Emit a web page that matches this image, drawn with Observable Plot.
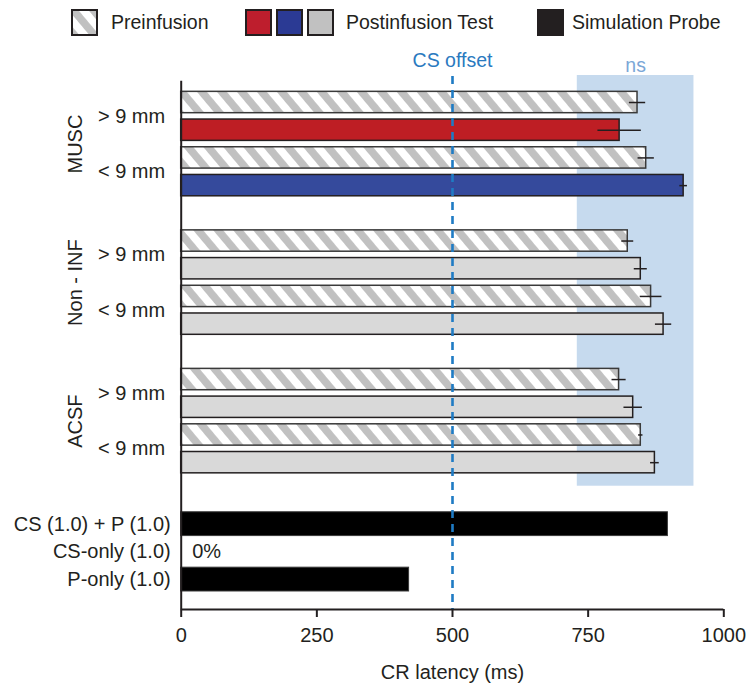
<!DOCTYPE html>
<html>
<head>
<meta charset="utf-8">
<script src="https://cdn.jsdelivr.net/npm/d3@7"></script>
<script src="https://cdn.jsdelivr.net/npm/@observablehq/plot@0.6"></script>
<style>
  body { margin: 0; background: #fff; }
  #wrap { position: relative; width: 746px; height: 686px; font-family: "Liberation Sans", Arial, sans-serif; }
  #legend { position: absolute; left: 0; top: 0; z-index: 2; }
  #chart { position: absolute; left: 0; top: 0; z-index: 1; }
</style>
</head>
<body>
<div id="wrap">
  <svg id="legend" width="746" height="44">
    <defs>
      <pattern id="hatch" patternUnits="userSpaceOnUse" width="15.3" height="15.3" patternTransform="rotate(-40)">
        <rect width="15.3" height="15.3" fill="#ffffff"></rect>
        <rect width="7.6" height="15.3" fill="#c1c1c1"></rect>
      </pattern>
    </defs>
    <g id="legend-items"></g>
  </svg>
  <div id="chart"></div>
</div>
<script>
// ---------- data ----------
const groups = ["MUSC", "Non - INF", "ACSF"];
const sizes = ["> 9 mm", "< 9 mm"];
// [group][size] : size order ["> 9 mm", "< 9 mm"]
const preMean = [[841, 857], [823, 866], [807, 847]];
const preSem  = [[15, 15], [11, 20], [13, 4]];
const postMean = [[808, 926], [847, 889], [833, 873]];
const postSem  = [[40, 7], [12, 15], [17, 8]];

const simLabels = ["CS (1.0) + P (1.0)", "CS-only (1.0)", "P-only (1.0)"];
const simValues = [897, 0, 420];
const simNotes = ["", "0%", ""];

const csOffset = 500;
const csLabel = "CS offset";
const nsRange = [730, 945];
const nsLabel = "ns";
const xTicks = [0, 250, 500, 750, 1000];
const xLabel = "CR latency (ms)";

const legendItems = [
  {label: "Preinfusion", swatches: ["url(#hatch)"]},
  {label: "Postinfusion Test", swatches: ["#be1e2d", "#2b3a94", "#c1c1c1"]},
  {label: "Simulation Probe", swatches: ["#231f20"]}
];

// ---------- styles ----------
const musColors = ["#be1e24", "#354a9c"];
const postGray = "#d9d9d9";
const ink = "#231f20";
const font = "'Liberation Sans', Arial, sans-serif";

// ---------- layout (row positions in row units) ----------
const rows = [];
const sizeRows = [];
const groupRows = [];
groups.forEach((g, gi) => {
  sizes.forEach((s, si) => {
    const base = gi * 5 + si * 2;
    rows.push({group: g, size: s, phase: "pre", pos: base, value: preMean[gi][si], sem: preSem[gi][si]});
    rows.push({group: g, size: s, phase: "post", pos: base + 1, value: postMean[gi][si], sem: postSem[gi][si],
      fill: gi === 0 ? musColors[si] : postGray});
    sizeRows.push({label: s, pos: base + 0.5});
  });
  groupRows.push({label: g, pos: gi * 5 + 1.5});
});
const lastRow = d3.max(rows, d => d.pos);
const simStart = lastRow + 2.22;
const simRows = simLabels.map((l, k) => ({label: l, value: simValues[k], note: simNotes[k], pos: simStart + k}));
const yDomain = [-0.975, simStart + 3.08];
const axisTop = -0.77;
const half = 0.385;

const chart = Plot.plot({
  width: 746,
  height: 686,
  marginTop: 75,
  marginBottom: 77,
  marginLeft: 180.7,
  marginRight: 22.7,
  x: {domain: [0, 1000], axis: null},
  y: {domain: yDomain, reverse: true, axis: null},
  color: {type: "identity"},
  style: {fontFamily: font, fontSize: "20px", color: ink, background: "transparent"},
  marks: [
    // ns shaded band
    Plot.rect([nsRange], {x1: d => d[0], x2: d => d[1], y1: yDomain[0], y2: lastRow + 0.85, fill: "#c6daee"}),
    // preinfusion (hatched)
    Plot.rect(rows.filter(d => d.phase === "pre"), {
      x1: 0, x2: "value", y1: d => d.pos - half, y2: d => d.pos + half,
      fill: "url(#hatch)", stroke: "#3a3a3a", strokeWidth: 1.5
    }),
    // postinfusion
    Plot.rect(rows.filter(d => d.phase === "post"), {
      x1: 0, x2: "value", y1: d => d.pos - half, y2: d => d.pos + half,
      fill: "fill", stroke: ink, strokeWidth: 1.5
    }),
    // simulation probe
    Plot.rect(simRows.filter(d => d.value > 0), {
      x1: 0, x2: "value", y1: d => d.pos - 0.43, y2: d => d.pos + 0.43,
      fill: "#000000", stroke: "#3a3a3a", strokeWidth: 1
    }),
    // error bars
    Plot.ruleY(rows, {y: "pos", x1: d => d.value - d.sem, x2: d => d.value + d.sem, stroke: ink, strokeWidth: 1.5}),
    // CS offset dashed line
    Plot.ruleX([csOffset], {y1: yDomain[0] + 0.04, y2: yDomain[1], stroke: "#1f7bc4", strokeWidth: 2.6, strokeDasharray: "8,6"}),
    // axes lines
    Plot.ruleX([0], {y1: axisTop, y2: yDomain[1], stroke: ink, strokeWidth: 2}),
    Plot.ruleY([yDomain[1]], {stroke: ink, strokeWidth: 2}),
    Plot.axisX({ticks: xTicks, tickSize: 8, tickPadding: 10, fontSize: 20, strokeWidth: 2, label: null, tickFormat: d => String(d)}),
    Plot.text([xLabel], {frameAnchor: "bottom", lineAnchor: "middle", dy: 63, text: d => d, fontSize: 20, fill: ink}),
    // annotations
    Plot.text([csOffset], {x: d => d, frameAnchor: "top", lineAnchor: "middle", dy: -15, text: () => csLabel, fontSize: 19.5, fill: "#2a7ac0"}),
    Plot.text([nsRange], {x: d => (d[0] + d[1]) / 2, frameAnchor: "top", lineAnchor: "middle", dy: -10, text: () => nsLabel, fontSize: 19.5, fill: "#7ba7d7"}),
    // y labels
    Plot.text(sizeRows, {x: 0, y: "pos", text: "label", textAnchor: "end", dx: -16, fontSize: 20, fill: ink}),
    Plot.text(groupRows, {x: 0, y: "pos", text: "label", rotate: -90, dx: -106, fontSize: 20, fill: ink}),
    Plot.text(simRows, {x: 0, y: "pos", text: "label", textAnchor: "end", dx: -10.5, fontSize: 20, fill: ink}),
    Plot.text(simRows.filter(d => d.note), {x: "value", y: "pos", text: "note", textAnchor: "start", dx: 11, fontSize: 20, fill: ink})
  ]
});
document.getElementById("chart").appendChild(chart);

// ---------- legend ----------
const lg = d3.select("#legend-items");
const itemStarts = [72, 246, 538];
const textStarts = [111, 346, 572];
legendItems.forEach((item, i) => {
  item.swatches.forEach((c, k) => {
    lg.append("rect")
      .attr("x", itemStarts[i] + k * 31).attr("y", 10)
      .attr("width", 25).attr("height", 25)
      .attr("fill", c).attr("stroke", ink).attr("stroke-width", 2);
  });
  lg.append("text")
    .attr("x", textStarts[i]).attr("y", 29.3)
    .attr("font-family", font).attr("font-size", 19.5).attr("fill", ink)
    .text(item.label);
});
</script>
</body>
</html>
